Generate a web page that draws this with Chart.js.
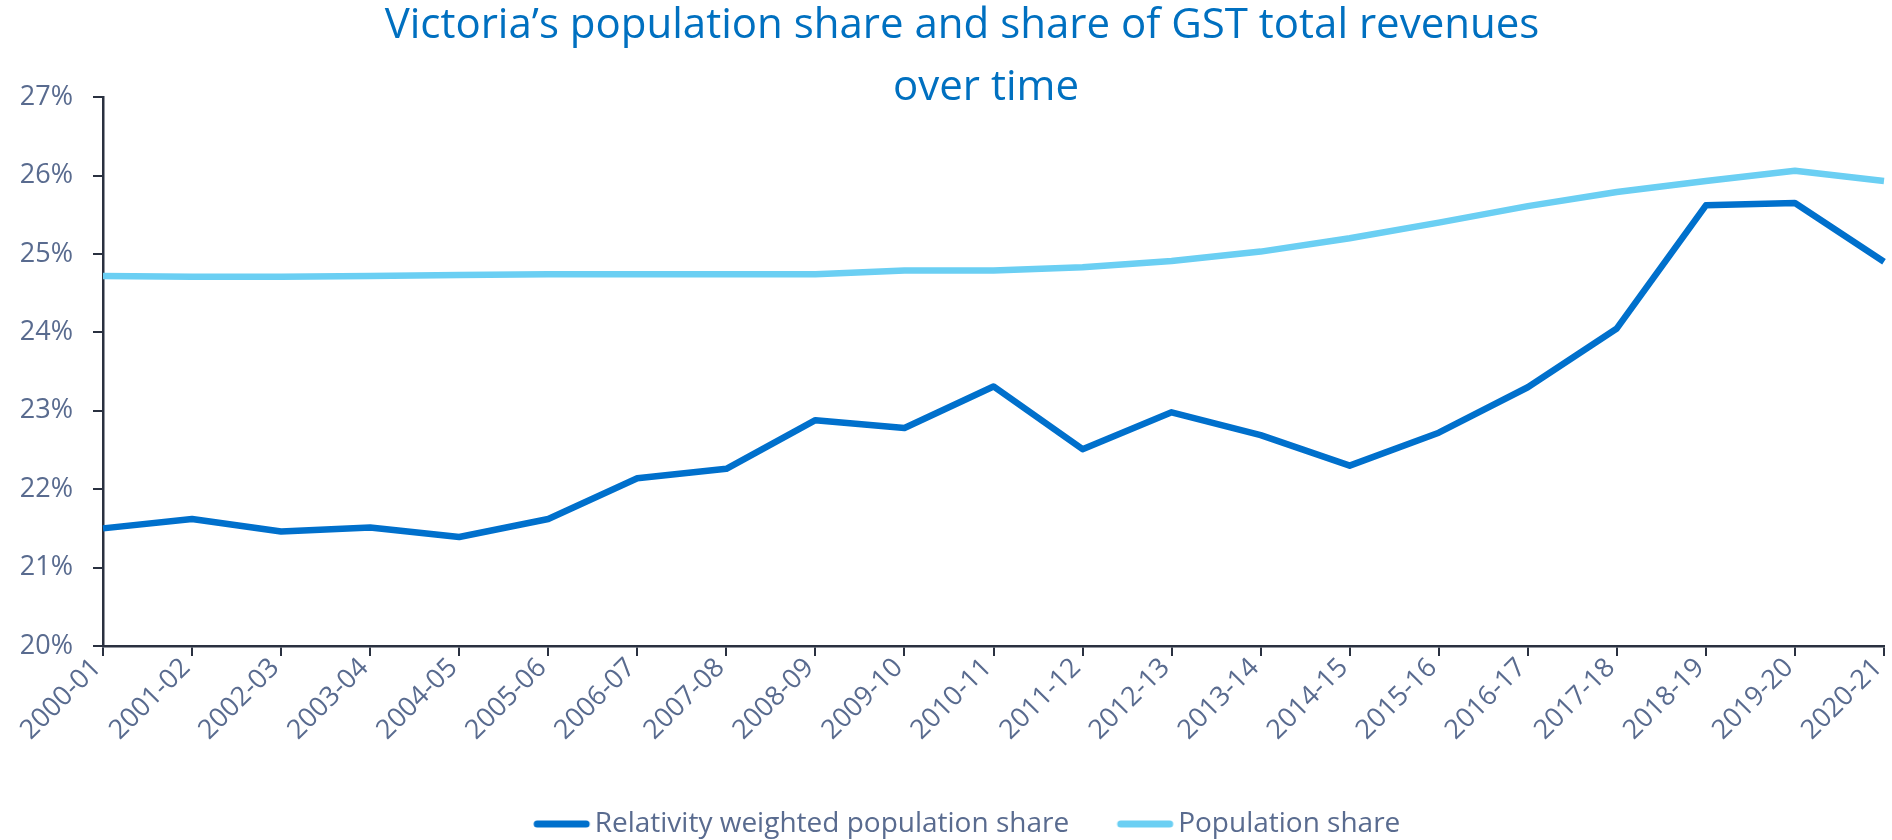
<!DOCTYPE html>
<html>
<head>
<meta charset="utf-8">
<script src="https://cdn.jsdelivr.net/npm/chart.js@4.4.1/dist/chart.umd.min.js"></script>
<style>
  html, body { margin: 0; padding: 0; background: #ffffff; }
  #wrap { width: 1892px; height: 840px; position: relative; }
</style>
</head>
<body>
<div id="wrap"><canvas id="c" width="1892" height="840"></canvas></div>
<script>
const categories = ['2000-01','2001-02','2002-03','2003-04','2004-05','2005-06','2006-07','2007-08','2008-09','2009-10','2010-11','2011-12','2012-13','2013-14','2014-15','2015-16','2016-17','2017-18','2018-19','2019-20','2020-21'];
const relativityWeightedShare = [21.50, 21.62, 21.46, 21.51, 21.39, 21.62, 22.14, 22.26, 22.88, 22.78, 23.31, 22.51, 22.98, 22.69, 22.30, 22.72, 23.30, 24.05, 25.62, 25.65, 24.90];
const populationShare = [24.72, 24.71, 24.71, 24.72, 24.73, 24.74, 24.74, 24.74, 24.74, 24.79, 24.79, 24.83, 24.91, 25.03, 25.20, 25.40, 25.61, 25.79, 25.93, 26.06, 25.93];
const yTicks = [20, 21, 22, 23, 24, 25, 26, 27];
const titleLines = ['Victoria\u2019s population share and share of GST total revenues', 'over time'];
const seriesNames = ['Relativity weighted population share', 'Population share'];
const seriesColors = ['#0070CC', '#6BCFF3'];

const FONT = "'Open Sans', 'Noto Sans', sans-serif";
const TEXT = '#596B8F';
const AXIS = '#2A3140';

// legend swatch: a short thick line with round caps, placed just before the text
function legendLine(color) {
  const c = document.createElement('canvas');
  c.width = 106; c.height = 10;
  const g = c.getContext('2d');
  g.strokeStyle = color; g.lineWidth = 7; g.lineCap = 'round';
  g.beginPath(); g.moveTo(52, 5); g.lineTo(101, 5); g.stroke();
  return c;
}
const swatches = seriesColors.map(legendLine);

const shiftPlugin = {
  id: 'shiftBlocks',
  afterLayout(chart) {
    const t = chart.titleBlock;
    if (t) { t.left += 20; t.right += 20; }
    const sub = chart.boxes.find(b => b !== t && b.options && b.options.text === titleLines[1]);
    if (sub) { sub.left += 44; sub.right += 44; }
    const lg = chart.legend;
    if (lg) { lg.left += 6; lg.right += 6; lg.top += 8; lg.bottom += 8; }
  }
};

new Chart(document.getElementById('c'), {
  type: 'line',
  data: {
    labels: categories,
    datasets: [
      { label: seriesNames[0], data: relativityWeightedShare, borderColor: seriesColors[0], backgroundColor: seriesColors[0],
        borderWidth: 6.5, pointRadius: 0, tension: 0, borderJoinStyle: 'round' },
      { label: seriesNames[1], data: populationShare, borderColor: seriesColors[1], backgroundColor: seriesColors[1],
        borderWidth: 6.5, pointRadius: 0, tension: 0, borderJoinStyle: 'round' }
    ]
  },
  plugins: [shiftPlugin],
  options: {
    responsive: false,
    animation: false,
    events: [],
    layout: { padding: { left: 0, right: 8, top: 0, bottom: 0 } },
    plugins: {
      tooltip: { enabled: false },
      title: {
        display: true,
        text: titleLines[0],
        color: '#0070C0',
        font: { family: FONT, size: 42, weight: 'normal', lineHeight: 1.43 },
        padding: { top: -4, bottom: 0 }
      },
      subtitle: {
        display: true,
        text: titleLines[1],
        color: '#0070C0',
        font: { family: FONT, size: 42, weight: 'normal', lineHeight: 1.43 },
        padding: { top: 2, bottom: -21 }
      },
      legend: {
        position: 'bottom',
        labels: {
          usePointStyle: true,
          pointStyleWidth: 85,
          color: TEXT,
          font: { family: FONT, size: 28 },
          padding: 10,
          generateLabels: (chart) => {
            const items = Chart.defaults.plugins.legend.labels.generateLabels(chart);
            items.forEach((it, i) => { it.pointStyle = swatches[it.datasetIndex ?? i]; it.fontColor = TEXT; });
            return items;
          }
        }
      }
    },
    scales: {
      x: {
        type: 'category',
        offset: false,
        grid: { display: true, drawOnChartArea: false, drawTicks: true, tickLength: 10, color: AXIS, lineWidth: 2 },
        border: { display: true, color: AXIS, width: 2.5 },
        ticks: { color: TEXT, font: { family: FONT, size: 27 }, minRotation: 45, maxRotation: 45, autoSkip: false, padding: -4, labelOffset: -6 },
        afterFit: (s) => { s.height = 146; s.paddingLeft = 0; s.paddingRight = 0; }
      },
      y: {
        min: 20, max: 27,
        grid: { display: true, drawOnChartArea: false, drawTicks: true, tickLength: 10, color: AXIS, lineWidth: 2 },
        border: { display: true, color: AXIS, width: 2.5 },
        afterBuildTicks: (s) => { s.ticks = yTicks.map(v => ({ value: v })); },
        ticks: { color: TEXT, font: { family: FONT, size: 27 }, padding: 20, callback: (v) => v + '%' },
        afterFit: (s) => { s.width = 103; }
      }
    }
  }
});
</script>
</body>
</html>
